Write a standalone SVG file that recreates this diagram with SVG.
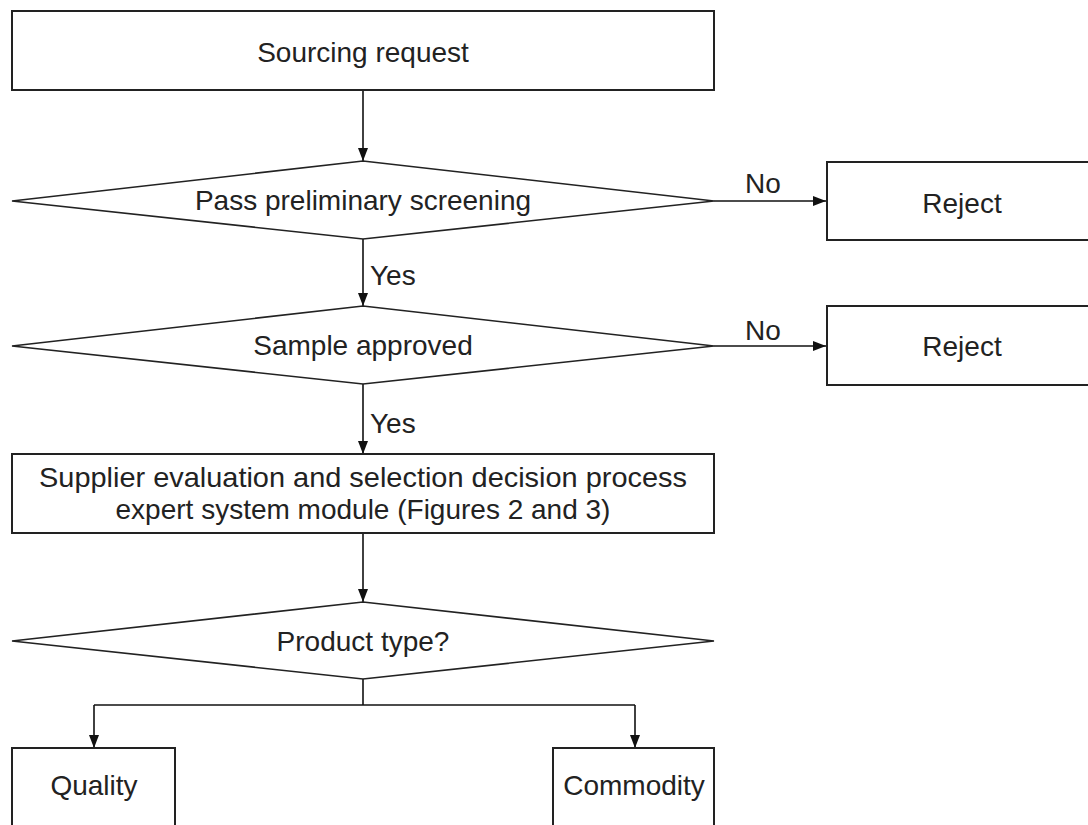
<svg xmlns="http://www.w3.org/2000/svg" width="1088" height="825" viewBox="0 0 1088 825">
<defs>
<marker id="arr" markerUnits="userSpaceOnUse" markerWidth="13" markerHeight="10" refX="13" refY="5" orient="auto">
<path d="M0,0 L13,5 L0,10 z" fill="#111"/>
</marker>
<style>
.box{fill:#fff;stroke:#222;stroke-width:2}
.dia{fill:#fff;stroke:#222;stroke-width:1.6}
.ln{fill:none;stroke:#111;stroke-width:1.6}
.t{font-family:"Liberation Sans",Arial,sans-serif;font-size:28px;fill:#222;text-anchor:middle}
.lb{font-family:"Liberation Sans",Arial,sans-serif;font-size:28px;fill:#222}
</style>
</defs>
<rect width="1088" height="825" fill="#fff"/>
<g id="connectors">
<line class="ln" x1="363" y1="90" x2="363" y2="161" marker-end="url(#arr)"/>
<line class="ln" x1="363" y1="239" x2="363" y2="306" marker-end="url(#arr)"/>
<line class="ln" x1="363" y1="383" x2="363" y2="454" marker-end="url(#arr)"/>
<line class="ln" x1="363" y1="533" x2="363" y2="602" marker-end="url(#arr)"/>
<line class="ln" x1="714" y1="201" x2="826" y2="201" marker-end="url(#arr)"/>
<line class="ln" x1="714" y1="346" x2="826" y2="346" marker-end="url(#arr)"/>
<polyline class="ln" points="363,679 363,705"/>
<polyline class="ln" points="94,705 635,705"/>
<line class="ln" x1="94" y1="705" x2="94" y2="748" marker-end="url(#arr)"/>
<line class="ln" x1="635" y1="705" x2="635" y2="748" marker-end="url(#arr)"/>
<text class="lb" x="745" y="193">No</text>
<text class="lb" x="745" y="340">No</text>
<text class="lb" x="370" y="285">Yes</text>
<text class="lb" x="370" y="433">Yes</text>
</g>
<g id="sourcing">
<rect class="box" x="12" y="11" width="702" height="79"/>
<text class="t" x="363" y="62">Sourcing request</text>
</g>
<g id="screening">
<polygon class="dia" points="363,161 714,201 363,239 12,201"/>
<text class="t" x="363" y="210">Pass preliminary screening</text>
</g>
<g id="reject1">
<rect class="box" x="827" y="162" width="270" height="78"/>
<text class="t" x="962" y="213">Reject</text>
</g>
<g id="sample">
<polygon class="dia" points="363,306 714,346 363,384 12,346"/>
<text class="t" x="363" y="355">Sample approved</text>
</g>
<g id="reject2">
<rect class="box" x="827" y="306" width="270" height="79"/>
<text class="t" x="962" y="356">Reject</text>
</g>
<g id="supplier">
<rect class="box" x="12" y="454" width="702" height="79"/>
<text class="t" x="363" y="487" textLength="648" lengthAdjust="spacingAndGlyphs">Supplier evaluation and selection decision process</text>
<text class="t" x="363" y="519">expert system module (Figures 2 and 3)</text>
</g>
<g id="product">
<polygon class="dia" points="363,602 714,641 363,679 12,641"/>
<text class="t" x="363" y="651">Product type?</text>
</g>
<g id="quality">
<rect class="box" x="12" y="748" width="163" height="90"/>
<text class="t" x="94" y="795">Quality</text>
</g>
<g id="commodity">
<rect class="box" x="553" y="748" width="161" height="90"/>
<text class="t" x="634" y="795">Commodity</text>
</g>
</svg>
